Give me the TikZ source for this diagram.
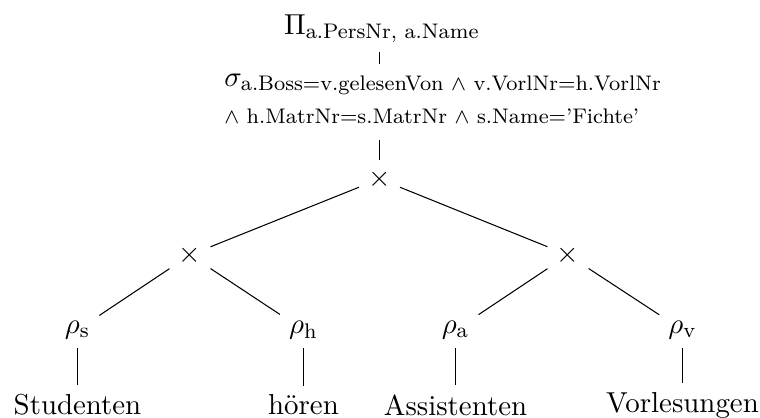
\documentclass[tikz,border=0pt]{standalone}
\usepackage{amsmath}
\begin{document}
\begin{tikzpicture}[x=0.37938pt, y=-0.37938pt,
  every node/.style={font=\fontsize{10.95}{13.6}\selectfont},
  small/.style={font=\fontsize{8}{9.5}\selectfont},
  link/.style={line width=0.4pt}]
\useasboundingbox (0,0) rectangle (760,417);
% projection and selection
\node[anchor=base] (pi) at (382,34) {$\Pi_{\text{a.PersNr, a.Name}}$};
\node[anchor=base west] (sigA) at (215,86)
  {$\sigma_{\text{a.Boss=v.gelesenVon $\wedge$ v.VorlNr=h.VorlNr}}$};
\node[anchor=base west, small] (sigB) at (215,123)
  {\strut$\wedge$ h.MatrNr=s.MatrNr $\wedge$ s.Name='Fichte'};
% cross products
\node (x0) at (379.5,179) {$\times$};
\node (x1) at (190,255) {$\times$};
\node (x2) at (568,255) {$\times$};
% renamings
\node (rs) at (77.5,330) {$\rho_{\text{s}}$};
\node (rh) at (303.5,330) {$\rho_{\text{h}}$};
\node (ra) at (455.5,330) {$\rho_{\text{a}}$};
\node (rv) at (682.5,330) {$\rho_{\text{v}}$};
% base relations
\node (stud) at (77.5,405) {Studenten};
\node (hoer) at (303.5,405) {hören};
\node (assi) at (455.5,405) {Assistenten};
\node (vorl) at (682.5,405) {Vorlesungen};
% edges
\draw[link] (pi.south -| x0) -- (sigA.north -| x0);
\draw[link] (sigB.south -| x0) -- (x0);
\draw[link] (x0) -- (x1);
\draw[link] (x0) -- (x2);
\draw[link] (x1) -- (rs);
\draw[link] (x1) -- (rh);
\draw[link] (x2) -- (ra);
\draw[link] (x2) -- (rv);
\draw[link] (rs) -- (stud);
\draw[link] (rh) -- (hoer);
\draw[link] (ra) -- (assi);
\draw[link] (rv) -- (vorl);
\end{tikzpicture}
\end{document}
